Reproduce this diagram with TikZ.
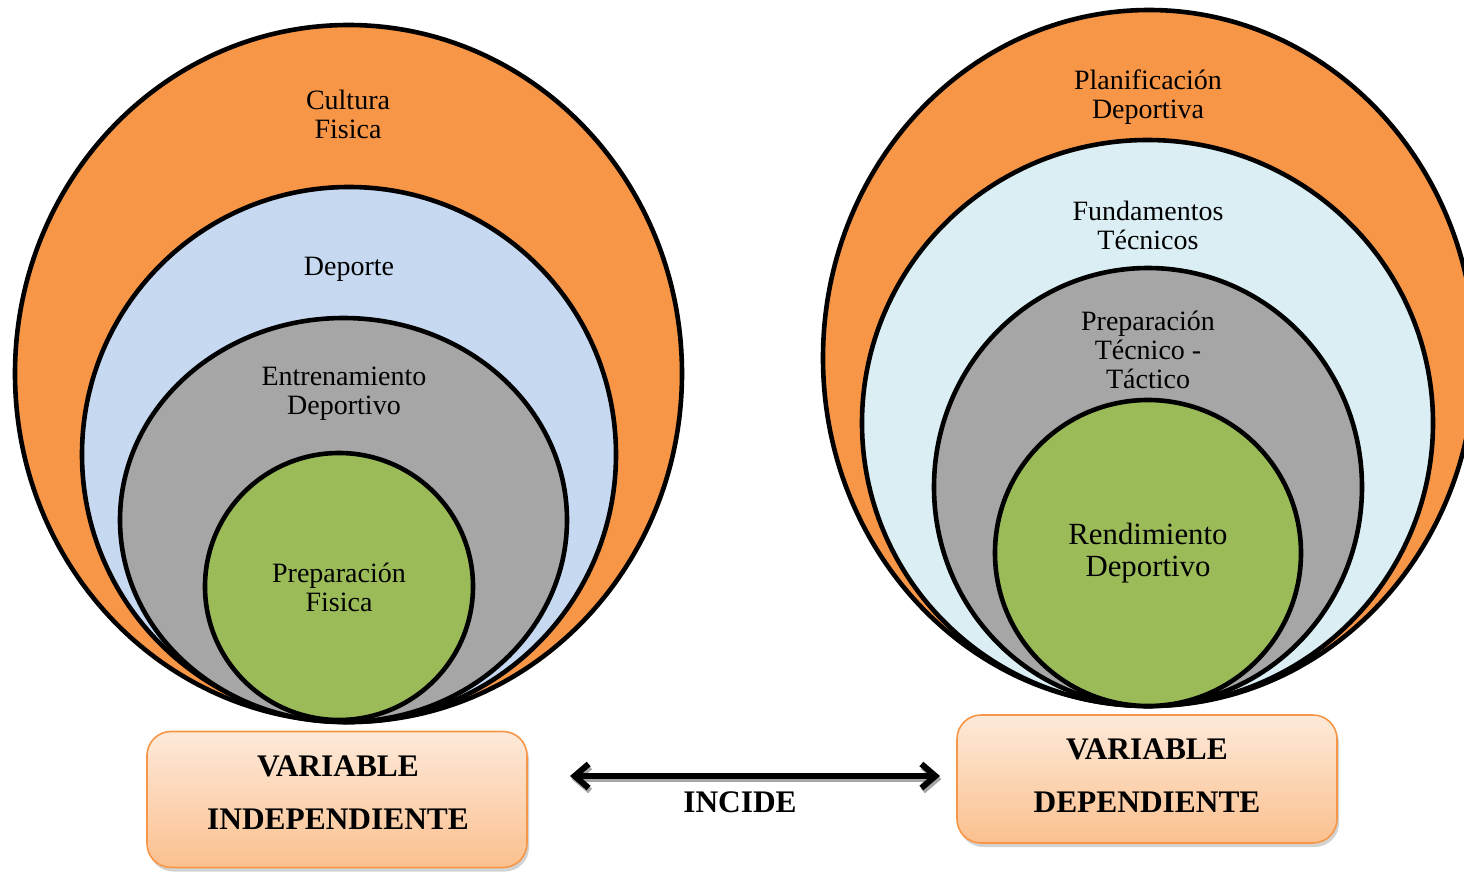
\documentclass[tikz,border=0pt]{standalone}
\usepackage{fontspec}
\setmainfont{Liberation Serif}
\usetikzlibrary{shadows,arrows.meta}
\definecolor{orng}{HTML}{F79646}
\definecolor{lblue}{HTML}{C6D9F1}
\definecolor{gry}{HTML}{A6A6A6}
\definecolor{grn}{HTML}{9BBB59}
\definecolor{pblue}{HTML}{DAEEF3}
\definecolor{boxtop}{HTML}{FDEADA}
\definecolor{boxbot}{HTML}{FBC08E}
\tikzset{
  ring/.style={draw=black,line width=2.3pt},
  lbl/.style={align=center,font=\fontsize{14}{14.5}\selectfont},
  varbox/.style={draw=orng,line width=0.8pt,rounded corners=12pt,top color=boxtop,bottom color=boxbot,
     drop shadow={shadow xshift=1pt,shadow yshift=-2pt,fill=gray!70}},
  boxtxt/.style={font=\fontsize{15.7}{18}\selectfont\bfseries},
  barb/.style={line width=3pt,{Straight Barb[length=7pt,width=12pt]}-{Straight Barb[length=7pt,width=12pt]}},
}
\begin{document}
\begin{tikzpicture}[x=0.5pt,y=-0.5pt]
\useasboundingbox (0,0) rectangle (1464,873);
\begin{scope}
\clip (0,0) rectangle (1464,873);
% left set
\draw[ring,fill=orng] (348.5,373.5) ellipse [x radius=333.5,y radius=348.5];
\draw[ring,fill=lblue] (349,454.5) ellipse [x radius=267,y radius=267.5];
\draw[ring,fill=gry] (343.5,520) ellipse [x radius=223.5,y radius=202];
\draw[ring,fill=grn] (339,586.5) ellipse [x radius=134,y radius=133.5];
% right set
\draw[ring,fill=orng] (1149,358) ellipse [x radius=326,y radius=348];
\draw[ring,fill=pblue] (1147.5,423) ellipse [x radius=285.5,y radius=283];
\draw[ring,fill=gry] (1148,487) ellipse [x radius=214,y radius=219];
\draw[ring,fill=grn] (1148,553) ellipse [x radius=153,y radius=153];
\end{scope}
\node[lbl] (cf) at (348,114) {Cultura\\Fisica};
\node[lbl] (dp) at (349,269) {Deporte};
\node[lbl] (ed) at (344,394) {Entrenamiento\\Deportivo};
\node[lbl] (pf) at (339,587) {Preparación\\Fisica};
\node[lbl] (pd) at (1148,97) {Planificación\\Deportiva};
\node[lbl] (ft) at (1148,225) {Fundamentos\\Técnicos};
\node[lbl] (ptt) at (1148,350) {Preparación\\Técnico -\\Táctico};
\node[lbl,font=\fontsize{15.4}{16}\selectfont] (rd) at (1148,553) {Rendimiento\\Deportivo};
% boxes
\node[varbox,minimum width=190pt,minimum height=68pt] (vi) at (337,799.5) {};
\node[boxtxt] at (338,766) {VARIABLE};
\node[boxtxt] at (338,819) {INDEPENDIENTE};
\node[varbox,minimum width=190pt,minimum height=64pt] (vd) at (1147,779) {};
\node[boxtxt] at (1147,749) {VARIABLE};
\node[boxtxt] at (1147,802) {DEPENDIENTE};
% arrow
\coordinate (a1) at (570,776);
\coordinate (a2) at (940,776);
\draw[gray!70,barb] ([shift={(1.5,3)}]a1) -- ([shift={(1.5,3)}]a2);
\draw[black,barb] (a1) -- (a2);
\node[boxtxt] (inc) at (740,802) {INCIDE};
\end{tikzpicture}
\end{document}
